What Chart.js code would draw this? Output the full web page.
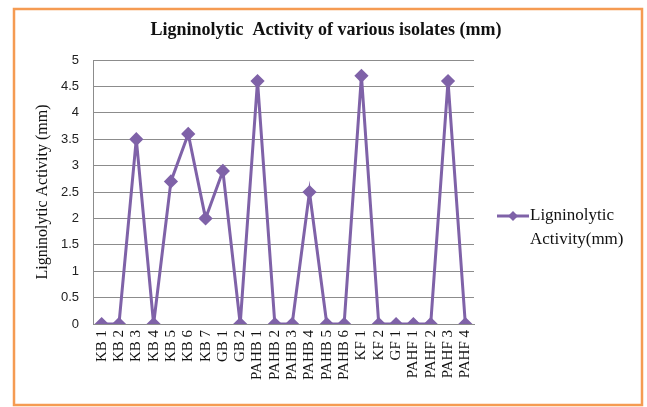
<!DOCTYPE html>
<html>
<head>
<meta charset="utf-8">
<script src="https://cdn.jsdelivr.net/npm/chart.js@4/dist/chart.umd.min.js"></script>
<style>
  html, body { margin: 0; padding: 0; background: #ffffff; }
  #wrap { width: 647px; height: 407px; position: relative; }
</style>
</head>
<body>
<div id="wrap"><canvas id="c" width="647" height="407"></canvas></div>
<script>
const categories = ["KB 1","KB 2","KB 3","KB 4","KB 5","KB 6","KB 7","GB 1","GB 2","PAHB 1","PAHB 2","PAHB 3","PAHB 4","PAHB 5","PAHB 6","KF 1","KF 2","GF 1","PAHF 1","PAHF 2","PAHF 3","PAHF 4"];
const activity = [0, 0, 3.5, 0, 2.7, 3.6, 2.0, 2.9, 0, 4.6, 0, 0, 2.5, 0, 0, 4.7, 0, 0, 0, 0, 4.6, 0];
const seriesLabel = ["Ligninolytic", "Activity(mm)"];
const chartTitle = "Ligninolytic  Activity of various isolates (mm)";
const yTitle = "Ligninolytic Activity (mm)";

const PURPLE = "#7f62a8";

const decor = {
  id: "decor",
  beforeDraw(chart) {
    const ctx = chart.ctx;
    ctx.save();
    ctx.fillStyle = "#ffffff";
    ctx.fillRect(0, 0, chart.width, chart.height);
    ctx.strokeStyle = "#f59b52";
    ctx.lineWidth = 2.5;
    ctx.strokeRect(14, 9, 628, 396);
    ctx.restore();
  },
  afterDraw(chart) {
    const ctx = chart.ctx;
    ctx.save();
    // title
    ctx.fillStyle = "#111111";
    ctx.font = "bold 18px 'Liberation Serif'";
    ctx.textAlign = "center";
    ctx.textBaseline = "middle";
    ctx.fillText(chartTitle, 326, 30);
    // legend
    const lx = 497, ly = 216;
    ctx.strokeStyle = PURPLE;
    ctx.lineWidth = 3;
    ctx.beginPath();
    ctx.moveTo(lx, ly);
    ctx.lineTo(lx + 32, ly);
    ctx.stroke();
    ctx.fillStyle = PURPLE;
    ctx.beginPath();
    const cx = lx + 16, r = 5;
    ctx.moveTo(cx, ly - r); ctx.lineTo(cx + r, ly); ctx.lineTo(cx, ly + r); ctx.lineTo(cx - r, ly);
    ctx.closePath(); ctx.fill();
    ctx.fillStyle = "#111111";
    ctx.font = "17px 'Liberation Serif'";
    ctx.textAlign = "left";
    ctx.textBaseline = "middle";
    ctx.fillText(seriesLabel[0], lx + 33, ly);
    ctx.fillText(seriesLabel[1], lx + 33, ly + 24);
    ctx.restore();
  }
};

new Chart(document.getElementById("c"), {
  type: "line",
  data: {
    labels: categories,
    datasets: [{
      label: seriesLabel.join(" "),
      data: activity,
      borderColor: PURPLE,
      backgroundColor: PURPLE,
      borderWidth: 3,
      pointStyle: "rectRot",
      pointRadius: 5,
      pointHoverRadius: 5,
      tension: 0
    }]
  },
  options: {
    responsive: false,
    animation: false,
    devicePixelRatio: 1,
    layout: { padding: { top: 60, right: 173, left: 33, bottom: 0 } },
    plugins: {
      legend: { display: false },
      title: { display: false },
      tooltip: { enabled: false }
    },
    scales: {
      x: {
        offset: true,
        grid: { display: false, drawTicks: false },
        border: { display: true, color: "#8c8c8c", width: 1 },
        ticks: {
          autoSkip: false,
          minRotation: 90,
          maxRotation: 90,
          padding: 6,
          color: "#111111",
          font: { family: "'Liberation Serif'", size: 15 }
        },
        afterFit(scale) { scale.height = 83; }
      },
      y: {
        min: 0,
        max: 5,
        ticks: {
          stepSize: 0.5,
          padding: 14,
          color: "#222222",
          font: { family: "'Liberation Sans'", size: 13 },
          callback: (v) => String(v)
        },
        grid: { color: "#8c8c8c", lineWidth: 1, drawTicks: false },
        border: { display: true, color: "#8c8c8c", width: 1 },
        title: {
          display: true,
          text: yTitle,
          color: "#111111",
          font: { family: "'Liberation Serif'", size: 16 },
          padding: { top: 0, bottom: 0 }
        },
        afterFit(scale) { scale.width = 60; }
      }
    }
  },
  plugins: [decor]
});
</script>
</body>
</html>
